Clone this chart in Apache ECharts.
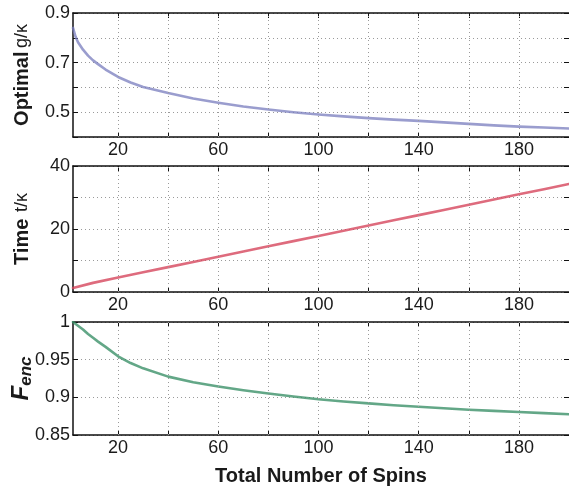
<!DOCTYPE html>
<html>
<head>
<meta charset="utf-8">
<script src="https://cdn.jsdelivr.net/npm/echarts@6/dist/echarts.min.js"></script>
<style>
html,body{margin:0;padding:0;background:#fff;}
#c{width:569px;height:487px;}
</style>
</head>
<body>
<div id="c"></div>
<script>
// ---- data ----
var spinsG = [2, 3, 4, 6, 8, 10, 12, 15, 20, 25, 30, 40, 50, 60, 70, 80, 90, 100, 110, 120, 130, 140, 150, 160, 170, 180, 190, 200];
var optimalG = [0.84, 0.805, 0.782, 0.752, 0.728, 0.709, 0.694, 0.672, 0.642, 0.62, 0.602, 0.577, 0.555, 0.538, 0.523, 0.511, 0.50, 0.491, 0.483, 0.476, 0.470, 0.465, 0.459, 0.453, 0.447, 0.442, 0.438, 0.434];

var spinsT = [2, 10, 20, 30, 40, 50, 60, 70, 80, 90, 100, 110, 120, 130, 140, 150, 160, 170, 180, 190, 200];
var timeT = [1.3, 2.9, 4.6, 6.25, 7.9, 9.55, 11.2, 12.85, 14.5, 16.15, 17.8, 19.45, 21.1, 22.75, 24.4, 26.05, 27.7, 29.35, 31.0, 32.65, 34.3];

var spinsF = [2, 4, 6, 8, 10, 12, 15, 20, 25, 30, 40, 50, 60, 70, 80, 90, 100, 110, 120, 130, 140, 150, 160, 170, 180, 190, 200];
var fidelityF = [1.0, 0.995, 0.990, 0.984, 0.979, 0.974, 0.967, 0.9545, 0.9455, 0.9385, 0.9275, 0.920, 0.9145, 0.9095, 0.905, 0.901, 0.8975, 0.8945, 0.892, 0.8895, 0.8875, 0.8855, 0.8835, 0.882, 0.8805, 0.879, 0.8775];

var xTicks = [20, 40, 60, 80, 100, 120, 140, 160, 180];
var xLabels = [20, 60, 100, 140, 180];
var yLabelsG = [0.5, 0.7, 0.9];
var yLabelsT = [0, 20, 40];
var yLabelsF = [0.85, 0.9, 0.95, 1];

// ---- chart ----
function pairs(xs, ys){ return xs.map(function(x,i){ return [x, ys[i]]; }); }
function inList(v, list){ for (var i=0;i<list.length;i++){ if (Math.abs(v-list[i])<1e-6) return true; } return false; }

var FONT = 'Liberation Sans';
var gridLine = { show: true, lineStyle: { color: '#9a9a9a', type: [1, 3], width: 1 } };
var axLine = { show: true, onZero: false, lineStyle: { color: '#111', width: 1.5 } };
var tick = { show: true, inside: true, length: 5, lineStyle: { color: '#111', width: 1 } };

var grids = [
  { left: 73, right: 0, top: 13, height: 124, containLabel: false, outerBoundsMode: 'none' },
  { left: 73, right: 0, top: 166, height: 126, containLabel: false, outerBoundsMode: 'none' },
  { left: 73, right: 0, top: 322, height: 113, containLabel: false, outerBoundsMode: 'none' }
];

function xAxisFor(idx, withName){
  var main = {
    type: 'value', gridIndex: idx, min: 2, max: 200, position: 'bottom',
    axisLine: axLine,
    axisTick: Object.assign({ customValues: xTicks }, tick),
    axisLabel: { customValues: xLabels, color: '#1a1a1a', fontSize: 18, fontFamily: FONT, margin: 4 },
    splitLine: { show: false }
  };
  if (withName) {
    main.name = 'Total Number of Spins';
    main.nameLocation = 'middle';
    main.nameGap = 31;
    main.nameTextStyle = { color: '#1a1a1a', fontSize: 20, fontWeight: 'bold', fontFamily: FONT };
  }
  var top = {
    type: 'value', gridIndex: idx, min: 2, max: 200, position: 'top',
    axisLine: axLine,
    axisTick: Object.assign({ customValues: xTicks }, tick),
    axisLabel: { show: false },
    splitLine: { show: false }
  };
  return [main, top];
}

function yAxisFor(idx, min, max, interval, labels, name, rich, gap){
  var left = {
    type: 'value', gridIndex: idx, min: min, max: max, interval: interval, position: 'left',
    axisLine: axLine, axisTick: tick,
    axisLabel: { color: '#1a1a1a', fontSize: 18, fontFamily: FONT, margin: 3,
      formatter: function(v){ return inList(v, labels) ? String(+v.toFixed(2)) : ''; } },
    splitLine: gridLine,
    name: name, nameLocation: 'middle', nameRotate: 90, nameGap: gap, nameMoveOverlap: false,
    nameTextStyle: { rich: rich, color: '#1a1a1a' }
  };
  var right = {
    type: 'value', gridIndex: idx, min: min, max: max, interval: interval, position: 'right',
    axisLine: { show: false }, axisTick: tick, axisLabel: { show: false }, splitLine: { show: false }
  };
  return [left, right];
}

var richBold = {
  b: { fontSize: 20, fontWeight: 'bold', fontFamily: FONT, color: '#1a1a1a' },
  n: { fontSize: 18, fontFamily: FONT, color: '#1a1a1a' }
};
var richF = {
  f: { fontSize: 24, fontWeight: 'bold', fontStyle: 'italic', fontFamily: FONT, color: '#1a1a1a' },
  s: { fontSize: 17, fontWeight: 'bold', fontStyle: 'italic', fontFamily: FONT, color: '#1a1a1a', padding: [10, 0, 0, 0] }
};

var xAxes = [].concat(xAxisFor(0,false), xAxisFor(1,false), xAxisFor(2,true));
var yAxes = [].concat(
  yAxisFor(0, 0.4, 0.9, 0.1, yLabelsG, '{b|Optimal} {n|g/\u03ba}', richBold, 41),
  yAxisFor(1, 0, 40, 10, yLabelsT, '{b|Time}  {n|t/\u03ba}', richBold, 41),
  yAxisFor(2, 0.85, 1, 0.05, yLabelsF, '{f|F}{s|enc}', richF, 38)
);

function vgrid(){
  return { silent: true, symbol: 'none', label: { show: false },
    lineStyle: { color: '#9a9a9a', type: [1, 3], width: 1 },
    data: xTicks.map(function(v){ return { xAxis: v }; }) };
}

function lineSeries(xi, yi, data, color){
  return {
    type: 'line', xAxisIndex: xi, yAxisIndex: yi, data: data, smooth: false,
    showSymbol: false, clip: true,
    lineStyle: { color: color, width: 2.6, join: 'round', cap: 'round' },
    markLine: vgrid(), z: 3
  };
}

var option = {
  backgroundColor: '#fff',
  animation: false,
  grid: grids,
  xAxis: xAxes,
  yAxis: yAxes,
  series: [
    lineSeries(0, 0, pairs(spinsG, optimalG), 'rgba(120,124,190,0.75)'),
    lineSeries(2, 2, pairs(spinsT, timeT), 'rgba(214,70,92,0.8)'),
    lineSeries(4, 4, pairs(spinsF, fidelityF), 'rgba(60,145,105,0.8)')
  ]
};

var chart = echarts.init(document.getElementById('c'), null, { renderer: 'canvas' });
chart.setOption(option);
</script>
</body>
</html>
